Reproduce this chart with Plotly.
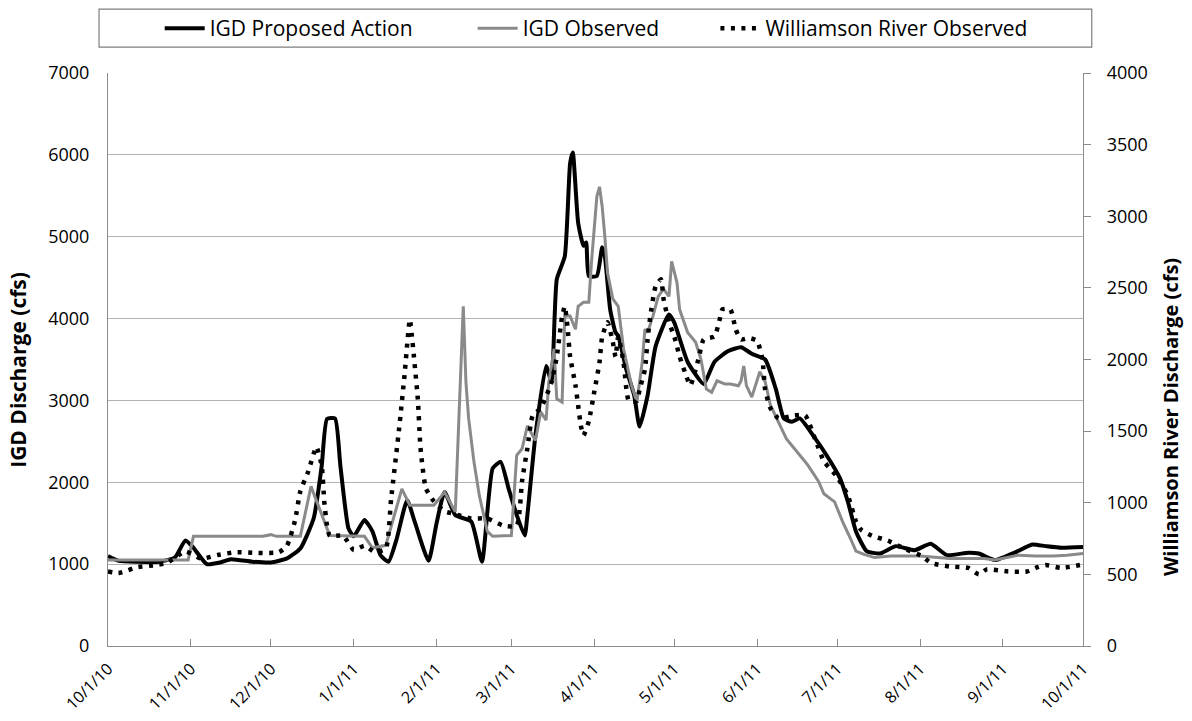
import plotly.graph_objects as go

# IGD Proposed Action (cfs, left axis)
proposed_dates = [
    "2010-10-01", "2010-10-05", "2010-10-12", "2010-10-20", "2010-10-26", "2010-10-30",
    "2010-11-02", "2010-11-07", "2010-11-12", "2010-11-16", "2010-11-24", "2010-12-01",
    "2010-12-07", "2010-12-12", "2010-12-17", "2010-12-20", "2010-12-22", "2010-12-25",
    "2010-12-27", "2010-12-30", "2011-01-01", "2011-01-05", "2011-01-08", "2011-01-11",
    "2011-01-14", "2011-01-17", "2011-01-21", "2011-01-24", "2011-01-29", "2011-02-01",
    "2011-02-04", "2011-02-08", "2011-02-14", "2011-02-18", "2011-02-22", "2011-02-25",
    "2011-02-28", "2011-03-03", "2011-03-06", "2011-03-07", "2011-03-10", "2011-03-14",
    "2011-03-16", "2011-03-18", "2011-03-21", "2011-03-23", "2011-03-24", "2011-03-26",
    "2011-03-28", "2011-03-29", "2011-03-30", "2011-04-02", "2011-04-04", "2011-04-05",
    "2011-04-07", "2011-04-09", "2011-04-10", "2011-04-13", "2011-04-16", "2011-04-18",
    "2011-04-21", "2011-04-24", "2011-04-29", "2011-05-01", "2011-05-06", "2011-05-12",
    "2011-05-16", "2011-05-21", "2011-05-26", "2011-05-30", "2011-06-04", "2011-06-08",
    "2011-06-11", "2011-06-14", "2011-06-17", "2011-06-22", "2011-06-27", "2011-07-02",
    "2011-07-05", "2011-07-08", "2011-07-12", "2011-07-17", "2011-07-23", "2011-07-30",
    "2011-08-05", "2011-08-11", "2011-08-19", "2011-08-23", "2011-08-29", "2011-09-06",
    "2011-09-12", "2011-09-17", "2011-09-23", "2011-10-01",
]
proposed_cfs = [
    1100, 1040, 1030, 1030, 1080, 1290,
    1200, 1000, 1020, 1060, 1030, 1020,
    1070, 1190, 1560, 2200, 2775, 2780,
    2200, 1440, 1340, 1540, 1400, 1110,
    1030, 1300, 1780, 1500, 1040, 1500,
    1880, 1600, 1520, 1030, 2170, 2250,
    1920, 1600, 1350, 1600, 2570, 3420,
    3230, 4480, 4760, 5900, 6030, 5170,
    4890, 4930, 4520, 4520, 4870, 4760,
    4110, 3830, 3790, 3380, 3060, 2680,
    3060, 3660, 4050, 3950, 3470, 3200,
    3470, 3600, 3650, 3570, 3500, 3140,
    2780, 2740, 2780, 2570, 2330, 2050,
    1760, 1400, 1160, 1130, 1220, 1170,
    1250, 1110, 1140, 1130, 1050, 1150,
    1240, 1220, 1200, 1210,
]

# IGD Observed (cfs, left axis)
observed_dates = [
    "2010-10-01", "2010-10-31", "2010-11-02", "2010-11-28", "2010-12-01", "2010-12-03",
    "2010-12-12", "2010-12-16", "2010-12-23", "2011-01-05", "2011-01-08", "2011-01-13",
    "2011-01-19", "2011-01-22", "2011-01-31", "2011-02-04", "2011-02-06", "2011-02-08",
    "2011-02-11", "2011-02-12", "2011-02-13", "2011-02-15", "2011-02-17", "2011-02-20",
    "2011-02-22", "2011-03-01", "2011-03-03", "2011-03-05", "2011-03-07", "2011-03-10",
    "2011-03-12", "2011-03-14", "2011-03-15", "2011-03-17", "2011-03-18", "2011-03-20",
    "2011-03-21", "2011-03-23", "2011-03-25", "2011-03-26", "2011-03-28", "2011-03-30",
    "2011-03-31", "2011-04-02", "2011-04-03", "2011-04-04", "2011-04-05", "2011-04-06",
    "2011-04-08", "2011-04-10", "2011-04-12", "2011-04-15", "2011-04-17", "2011-04-19",
    "2011-04-20", "2011-04-21", "2011-04-23", "2011-04-25", "2011-04-27", "2011-04-29",
    "2011-04-30", "2011-05-02", "2011-05-03", "2011-05-06", "2011-05-09", "2011-05-11",
    "2011-05-13", "2011-05-15", "2011-05-17", "2011-05-20", "2011-05-22", "2011-05-25",
    "2011-05-26", "2011-05-27", "2011-05-28", "2011-05-30", "2011-06-02", "2011-06-04",
    "2011-06-06", "2011-06-09", "2011-06-12", "2011-06-16", "2011-06-20", "2011-06-24",
    "2011-06-26", "2011-06-30", "2011-07-03", "2011-07-06", "2011-07-08", "2011-07-11",
    "2011-07-15", "2011-07-21", "2011-08-01", "2011-08-12", "2011-08-25", "2011-08-29",
    "2011-09-07", "2011-09-13", "2011-09-20", "2011-09-25", "2011-10-01",
]
observed_cfs = [
    1050, 1050, 1340, 1340, 1360, 1340,
    1340, 1950, 1350, 1340, 1200, 1230,
    1920, 1720, 1720, 1880, 1760, 1640,
    4150, 3220, 2780, 2250, 1840, 1400,
    1340, 1350, 2330, 2410, 2690, 2510,
    2860, 2760, 3220, 3630, 3020, 2980,
    4030, 4030, 3870, 4150, 4200, 4200,
    4690, 5490, 5610, 5370, 5000, 4560,
    4240, 4150, 3630, 3180, 2980, 3470,
    3870, 3830, 4030, 4270, 4360, 4270,
    4700, 4440, 4110, 3830, 3710, 3500,
    3140, 3100, 3240, 3200, 3200, 3180,
    3240, 3420, 3180, 3040, 3350, 3230,
    2940, 2740, 2530, 2370, 2210, 2010,
    1860, 1760, 1520, 1310, 1160, 1120,
    1080, 1100, 1100, 1070, 1070, 1050,
    1110, 1100, 1100, 1110, 1130,
]

# Williamson River Observed (cfs, right axis)
williamson_dates = [
    "2010-10-01", "2010-10-05", "2010-10-12", "2010-10-19", "2010-10-23", "2010-10-30",
    "2010-11-05", "2010-11-11", "2010-11-18", "2010-11-26", "2010-12-04", "2010-12-07",
    "2010-12-10", "2010-12-12", "2010-12-15", "2010-12-18", "2010-12-20", "2010-12-21",
    "2010-12-22", "2010-12-23", "2010-12-28", "2011-01-01", "2011-01-05", "2011-01-09",
    "2011-01-13", "2011-01-15", "2011-01-18", "2011-01-20", "2011-01-22", "2011-01-23",
    "2011-01-25", "2011-01-26", "2011-01-28", "2011-01-31", "2011-02-04", "2011-02-07",
    "2011-02-14", "2011-02-20", "2011-02-26", "2011-03-03", "2011-03-05", "2011-03-07",
    "2011-03-09", "2011-03-12", "2011-03-16", "2011-03-18", "2011-03-20", "2011-03-21",
    "2011-03-22", "2011-03-23", "2011-03-25", "2011-03-26", "2011-03-27", "2011-03-28",
    "2011-03-30", "2011-04-01", "2011-04-03", "2011-04-04", "2011-04-06", "2011-04-08",
    "2011-04-09", "2011-04-10", "2011-04-12", "2011-04-14", "2011-04-17", "2011-04-18",
    "2011-04-20", "2011-04-21", "2011-04-22", "2011-04-24", "2011-04-26", "2011-04-27",
    "2011-04-29", "2011-05-01", "2011-05-03", "2011-05-05", "2011-05-07", "2011-05-10",
    "2011-05-12", "2011-05-16", "2011-05-18", "2011-05-19", "2011-05-22", "2011-05-24",
    "2011-05-26", "2011-05-29", "2011-06-01", "2011-06-03", "2011-06-04", "2011-06-06",
    "2011-06-09", "2011-06-15", "2011-06-19", "2011-06-23", "2011-06-26", "2011-07-01",
    "2011-07-05", "2011-07-08", "2011-07-10", "2011-07-14", "2011-07-20", "2011-07-26",
    "2011-08-02", "2011-08-05", "2011-08-12", "2011-08-19", "2011-08-23", "2011-08-26",
    "2011-09-03", "2011-09-10", "2011-09-14", "2011-09-17", "2011-09-23", "2011-10-01",
]
williamson_cfs = [
    520, 510, 550, 565, 580, 660,
    610, 635, 655, 650, 655, 700,
    875, 1080, 1220, 1390, 1260, 1000,
    840, 770, 770, 670, 700, 655,
    680, 1030, 1520, 1890, 2280, 2120,
    1720, 1380, 1100, 1010, 940, 925,
    890, 890, 840, 840, 1150, 1380,
    1610, 1660, 1840, 2020, 2300, 2370,
    2230, 2020, 1820, 1680, 1540, 1470,
    1570, 1770, 1980, 2160, 2260, 2120,
    2020, 2160, 1980, 1710, 1710, 1790,
    1930, 2140, 2300, 2510, 2560, 2420,
    2260, 2160, 2020, 1910, 1820, 2000,
    2140, 2160, 2280, 2350, 2350, 2210,
    2140, 2150, 2130, 2000, 1790, 1660,
    1590, 1610, 1610, 1430, 1290, 1180,
    1050, 870, 810, 770, 735, 680,
    625, 580, 555, 545, 500, 535,
    520, 520, 550, 565, 545, 570,
]

month_ticks = [
    "2010-10-01", "2010-11-01", "2010-12-01", "2011-01-01", "2011-02-01", "2011-03-01",
    "2011-04-01", "2011-05-01", "2011-06-01", "2011-07-01", "2011-08-01", "2011-09-01",
    "2011-10-01",
]
month_labels = [
    "10/1/10", "11/1/10", "12/1/10", "1/1/11", "2/1/11", "3/1/11", "4/1/11",
    "5/1/11", "6/1/11", "7/1/11", "8/1/11", "9/1/11", "10/1/11",
]

FONT = "'Open Sans', sans-serif"
AXIS_GREY = "#8c8c8c"

fig = go.Figure()
fig.add_trace(go.Scatter(
    x=proposed_dates, y=proposed_cfs, name="IGD Proposed Action", mode="lines",
    line=dict(color="#000000", width=4, shape="spline", smoothing=0.5),
    legend="legend",
))
fig.add_trace(go.Scatter(
    x=observed_dates, y=observed_cfs, name="IGD Observed", mode="lines",
    line=dict(color="#8a8a8a", width=3),
    legend="legend2",
))
fig.add_trace(go.Scatter(
    x=williamson_dates, y=williamson_cfs, name="Williamson River Observed", mode="lines",
    line=dict(color="#000000", width=4.5, dash="4px,6.5px", shape="spline", smoothing=0.5),
    yaxis="y2", legend="legend3",
))

# legend frame
fig.add_shape(type="rect", xref="paper", yref="paper",
              x0=-0.0092, x1=1.009, y0=1.045, y1=1.1115,
              line=dict(color="#7f7f7f", width=1.2), fillcolor="white", layer="below")

# axis titles (the right one sits below the centre, as in the original)
fig.add_annotation(text="<b>IGD Discharge (cfs)</b>", textangle=-90,
                   xref="paper", yref="paper", x=-0.0923, y=0.482,
                   xanchor="center", yanchor="middle", showarrow=False,
                   font=dict(size=21))
fig.add_annotation(text="<b>Williamson River Discharge (cfs)</b>", textangle=-90,
                   xref="paper", yref="paper", x=1.0905, y=0.400,
                   xanchor="center", yanchor="middle", showarrow=False,
                   font=dict(size=20))

legend_style = dict(orientation="h", yanchor="middle", y=1.0775, xanchor="left",
                    font=dict(size=21), bgcolor="rgba(0,0,0,0)", itemwidth=40)

# the page body adds an 8px offset, so the figure is drawn 16px smaller
fig.update_layout(
    width=1176, height=705,
    margin=dict(l=100, r=101, t=65, b=67, autoexpand=False),
    plot_bgcolor="white", paper_bgcolor="white",
    font=dict(family=FONT, size=17, color="#000000"),
    showlegend=True,
    legend=dict(x=0.053, **legend_style),
    legend2=dict(x=0.374, **legend_style),
    legend3=dict(x=0.623, **legend_style),
    xaxis=dict(
        type="date", range=["2010-10-01", "2011-10-01"], automargin=False,
        tickvals=month_ticks, ticktext=month_labels, tickangle=-45,
        showgrid=False, showline=True, linecolor=AXIS_GREY, linewidth=1.2,
        ticks="inside", ticklen=7, tickcolor=AXIS_GREY,
        tickfont=dict(size=16), ticklabelstandoff=6,
    ),
    yaxis=dict(
        range=[0, 7000], dtick=1000, showgrid=True, gridcolor="#b3b3b3", gridwidth=1,
        showline=True, linecolor=AXIS_GREY, linewidth=1.2, zeroline=False,
        ticks="", automargin=False, ticklabelstandoff=14,
        tickfont=dict(size=18),
    ),
    yaxis2=dict(
        range=[0, 4000], dtick=500, overlaying="y", side="right", showgrid=False,
        showline=True, linecolor=AXIS_GREY, linewidth=1.2, zeroline=False,
        ticks="outside", ticklen=7, tickcolor=AXIS_GREY, automargin=False,
        ticklabelstandoff=12,
        tickfont=dict(size=18),
    ),
)

fig.write_html("out.html")
